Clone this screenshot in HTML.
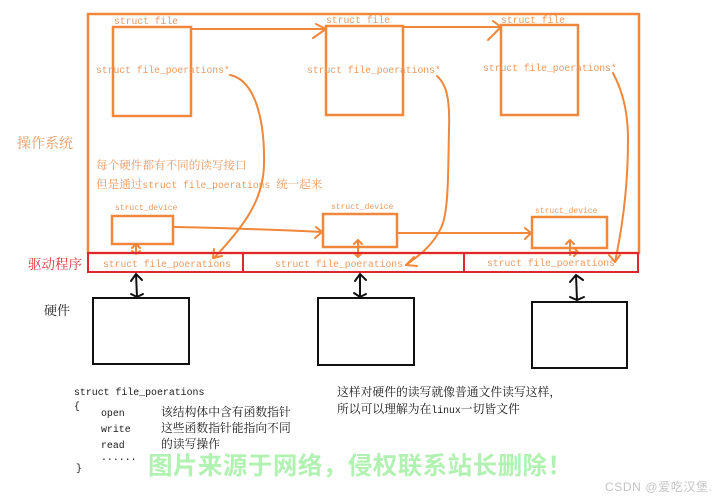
<!DOCTYPE html>
<html><head><meta charset="utf-8"><style>
html,body{margin:0;padding:0;background:#fff;}
svg{display:block;}
.m{font-family:"Liberation Mono","Noto Serif CJK SC",monospace;}
.c{font-family:"Liberation Serif","Noto Serif CJK SC",serif;}
</style></head><body>
<svg width="714" height="500" viewBox="0 0 714 500" xmlns="http://www.w3.org/2000/svg">
<rect width="714" height="500" fill="#fff"/>
<!-- outer OS rect -->
<rect x="88" y="14" width="551" height="239" fill="none" stroke="#f0873a" stroke-width="2.5"/>
<!-- struct file boxes -->
<g fill="none" stroke="#f0873a" stroke-width="2.5">
<rect x="113" y="27" width="78" height="89"/>
<rect x="326" y="26" width="77" height="89"/>
<rect x="501" y="25" width="77" height="90"/>
<!-- device boxes -->
<rect x="112" y="216" width="61" height="28"/>
<rect x="323" y="214" width="74" height="33"/>
<rect x="532" y="217" width="75" height="31"/>
</g>
<!-- arrows orange -->
<g fill="none" stroke="#f0873a" stroke-width="2" stroke-linecap="round" stroke-linejoin="round">
<path d="M191,29 L326,29"/>
<path d="M316,24 L326,29 L313,38"/>
<path d="M403,27 L501,27"/>
<path d="M493,21 L501,27 L488,40"/>
<path d="M174,227 C230,228 280,230 322,232"/>
<path d="M316,227 L322,232 L315,238"/>
<path d="M397,233 L531,233"/>
<path d="M525,228 L531,233 L525,239"/>
<!-- curves -->
<path d="M230,75 C255,80 265,120 264,165 C263,200 245,225 214,258"/>
<path d="M214,249 L213,258 L222,256"/>
<path d="M437,76 C447,85 450,100 449,130 C448,170 449,212 441,228 C433,245 420,255 406,265"/>
<path d="M414,257 L406,265 L417,266"/>
<path d="M613,73 C622,90 628,110 628,140 C628,180 624,220 615,262"/>
<path d="M609,255 L615,262 L620,255"/>
<!-- small double arrows -->
<path d="M136,244 L136,254 M132,248 L136,244 L140,248 M132,251 L136,254 L140,251"/>
<path d="M358,240 L358,257 M354,244 L358,240 L362,244 M354,253 L358,257 L362,253"/>
<path d="M570,240 L570,255 M566,244 L570,240 L574,244 M570,252 L578,252 M574,248 L578,252 L574,256"/>
</g>
<!-- driver row -->
<g fill="none" stroke="#e0262e" stroke-width="2">
<rect x="88" y="253" width="550" height="19"/>
<line x1="243" y1="253" x2="243" y2="273"/>
<line x1="464" y1="253" x2="464" y2="273"/>
</g>
<!-- hardware boxes -->
<g fill="none" stroke="#111" stroke-width="2">
<rect x="93" y="298" width="96" height="66"/>
<rect x="318" y="298" width="96" height="67"/>
<rect x="532" y="302" width="95" height="66"/>
</g>
<g fill="none" stroke="#111" stroke-width="2" stroke-linecap="round">
<path d="M136,274 L137,297 M131,281 L136,274 L142,280 M131,294 L137,297 L143,294"/>
<path d="M360,274 L360,297 M355,281 L360,274 L366,280 M354,293 L360,297 L366,294"/>
<path d="M576,275 L577,300 M570,282 L576,275 L583,280 M570,297 L577,300 L584,297"/>
</g>
<!-- orange texts -->
<g class="m" fill="#eb9a62" font-size="9.7">
<text x="114" y="24">struct file</text>
<text x="326" y="23">struct file</text>
<text x="501" y="23">struct file</text>
<text x="96" y="73">struct file_poerations*</text>
<text x="307" y="73">struct file_poerations*</text>
<text x="483" y="71">struct file_poerations*</text>
<text x="103" y="267">struct file_poerations</text>
<text x="275" y="267">struct file_poerations</text>
<text x="487" y="266">struct file_poerations</text>
</g>
<g class="m" fill="#eb9a62" font-size="8">
<text x="115" y="210">struct_device</text>
<text x="331" y="209">struct_device</text>
<text x="535" y="213">struct_device</text>
</g>
<g class="c" fill="#eb9a62" font-size="11.6">
<text x="96" y="169">每个硬件都有不同的读写接口</text>
<text x="96" y="188">但是通过<tspan class="m" font-size="9.7">struct file_poerations </tspan>统一起来</text>
</g>
<text class="c" x="17" y="148" font-size="14" fill="#eb9a62">操作系统</text>
<text class="c" x="28" y="269" font-size="13.5" fill="#e0303a">驱动程序</text>
<text class="c" x="44" y="315" font-size="13" fill="#222">硬件</text>
<!-- code -->
<g class="m" fill="#1a1a1a" font-size="9.9">
<text x="74" y="395">struct file_poerations</text>
<text x="74" y="409">{</text>
<text x="101" y="416">open</text>
<text x="101" y="432">write</text>
<text x="101" y="448">read</text>
<text x="101" y="460">......</text>
<text x="76" y="471">}</text>
</g>
<g class="c" fill="#1a1a1a" font-size="11.8">
<text x="161" y="416">该结构体中含有函数指针</text>
<text x="161" y="432">这些函数指针能指向不同</text>
<text x="161" y="448">的读写操作</text>
<text x="337" y="396">这样对硬件的读写就像普通文件读写这样，</text>
<text x="337" y="413">所以可以理解为在<tspan class="m" font-size="9.8">linux</tspan>一切皆文件</text>
</g>
<!-- watermark -->
<text x="148" y="474" textLength="424" lengthAdjust="spacing" font-family="'Liberation Sans','Noto Sans CJK SC',sans-serif" font-weight="bold" font-size="24.5" fill="#a8f0a8" fill-opacity="0.9">图片来源于网络，侵权联系站长删除！</text>
<text x="605" y="491" textLength="107" lengthAdjust="spacing" font-family="'Liberation Sans','Noto Sans CJK SC',sans-serif" font-size="12" fill="#c4c4c4">CSDN @爱吃汉堡.</text>
</svg>
</body></html>
